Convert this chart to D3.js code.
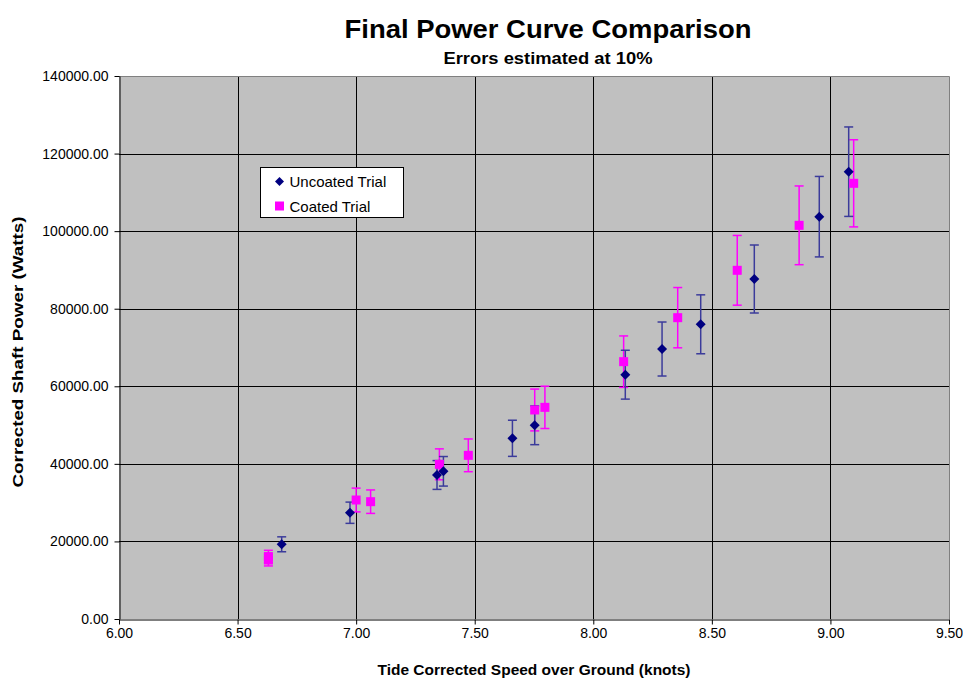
<!DOCTYPE html>
<html><head><meta charset="utf-8">
<script src="https://cdnjs.cloudflare.com/ajax/libs/d3/7.8.5/d3.min.js"></script>
<style>body{margin:0;background:#fff;}svg{display:block;font-family:"Liberation Sans",Arial,sans-serif;}</style>
</head><body>
<svg id="chart" width="963" height="679"></svg>
<script>
const uncoatedSpeed = [6.686, 6.974, 7.341, 7.368, 7.659, 7.753, 8.135, 8.290, 8.453, 8.679, 8.953, 9.077];
const uncoatedPower = [19260, 27400, 37130, 38080, 46590, 49940, 62990, 69610, 75980, 87660, 103730, 115330];
const coatedSpeed = [6.630, 6.630, 7.000, 7.061, 7.351, 7.473, 7.753, 7.796, 8.128, 8.356, 8.607, 8.868, 9.098];
const coatedPower = [16100, 15200, 30680, 30250, 39880, 42200, 53890, 54570, 66350, 77690, 89900, 101500, 112330];
const errorFraction = 0.10;
const xTicks = [6.0, 6.5, 7.0, 7.5, 8.0, 8.5, 9.0, 9.5];
const yTicks = [0, 20000, 40000, 60000, 80000, 100000, 120000, 140000];

const svg = d3.select("#chart");
const L = 119, R = 949, T = 76, B = 619;
const x = d3.scaleLinear().domain([6, 9.5]).range([L, R]);
const y = d3.scaleLinear().domain([0, 140000]).range([B, T]);

svg.append("rect").attr("x", L).attr("y", T).attr("width", R - L).attr("height", B - T).attr("fill", "#C0C0C0");

// gridlines
svg.append("g").selectAll("line").data(yTicks.slice(1, -1)).join("line")
  .attr("x1", L).attr("x2", R).attr("y1", d => Math.round(y(d)) + 0.5).attr("y2", d => Math.round(y(d)) + 0.5)
  .attr("stroke", "#000").attr("stroke-width", 1);
svg.append("g").selectAll("line").data(xTicks.slice(1, -1)).join("line")
  .attr("y1", T).attr("y2", B).attr("x1", d => Math.round(x(d)) + 0.5).attr("x2", d => Math.round(x(d)) + 0.5)
  .attr("stroke", "#000").attr("stroke-width", 1);

// border top/right
svg.append("path").attr("d", `M${L},${T + 0.5}H${R + 0.5}V${B}`).attr("fill", "none").attr("stroke", "#808080").attr("stroke-width", 1);

// axes
const xAxis = d3.axisBottom(x).tickValues(xTicks).tickFormat(d3.format(".2f")).tickSizeInner(5).tickSizeOuter(0).tickPadding(4);
const gx = svg.append("g").attr("transform", `translate(0,${B + 0.5})`).call(xAxis);
const yAxis = d3.axisLeft(y).tickValues(yTicks).tickFormat(d3.format(".2f")).tickSizeInner(5).tickSizeOuter(0).tickPadding(6);
const gy = svg.append("g").attr("transform", `translate(${L + 0.5},0)`).call(yAxis);
[gx, gy].forEach(g => {
  g.select(".domain").attr("stroke", "#000");
  g.selectAll(".tick line").attr("stroke", "#000");
  g.selectAll("text").attr("font-size", 14).attr("fill", "#000").attr("font-family", "Liberation Sans, Arial, sans-serif");
});

function errBars(sx, sp, color, cls) {
  const g = svg.append("g");
  const data = sx.map((s, i) => ({s, p: sp[i]}));
  g.selectAll("line.v" + cls).data(data).join("line")
    .attr("x1", d => x(d.s)).attr("x2", d => x(d.s))
    .attr("y1", d => y(d.p * (1 + errorFraction))).attr("y2", d => y(d.p * (1 - errorFraction)))
    .attr("stroke", color).attr("stroke-width", 1.5);
  ["top", "bot"].forEach(k => {
    g.selectAll("line." + k + cls).data(data).join("line")
      .attr("x1", d => x(d.s) - 4.5).attr("x2", d => x(d.s) + 4.5)
      .attr("y1", d => y(d.p * (k === "top" ? 1 + errorFraction : 1 - errorFraction)))
      .attr("y2", d => y(d.p * (k === "top" ? 1 + errorFraction : 1 - errorFraction)))
      .attr("stroke", color).attr("stroke-width", 1.5);
  });
  return data;
}

const cData = errBars(coatedSpeed, coatedPower, "#FF00FF", "c");
const uData = errBars(uncoatedSpeed, uncoatedPower, "#3B3B9B", "u");

svg.append("g").selectAll("rect").data(cData).join("rect")
  .attr("x", d => x(d.s) - 4.5).attr("y", d => y(d.p) - 4.5).attr("width", 9).attr("height", 9)
  .attr("fill", "#FF00FF");
const diamond = "M0,-5L5,0L0,5L-5,0Z";
svg.append("g").selectAll("path").data(uData).join("path")
  .attr("d", diamond).attr("transform", d => `translate(${x(d.s)},${y(d.p)})`)
  .attr("fill", "#000080");

// legend
const lg = svg.append("g").attr("transform", "translate(260.5,167.5)");
lg.append("rect").attr("width", 143).attr("height", 50).attr("fill", "#fff").attr("stroke", "#000");
lg.append("path").attr("d", "M0,-4.5L4.5,0L0,4.5L-4.5,0Z").attr("transform", "translate(19,14)").attr("fill", "#000080");
lg.append("rect").attr("x", 14.5).attr("y", 34).attr("width", 9).attr("height", 9).attr("fill", "#FF00FF");
lg.append("text").attr("x", 29).attr("y", 19).attr("font-size", 15).text("Uncoated Trial");
lg.append("text").attr("x", 29).attr("y", 44).attr("font-size", 15).text("Coated Trial");

// titles
svg.append("text").attr("x", 548).attr("y", 38).attr("text-anchor", "middle").attr("font-size", 25).attr("font-weight", "bold")
  .attr("textLength", 407).attr("lengthAdjust", "spacingAndGlyphs").text("Final Power Curve Comparison");
svg.append("text").attr("x", 548).attr("y", 64).attr("text-anchor", "middle").attr("font-size", 16).attr("font-weight", "bold")
  .attr("textLength", 209).attr("lengthAdjust", "spacingAndGlyphs").text("Errors estimated at 10%");
svg.append("text").attr("x", 534).attr("y", 675).attr("text-anchor", "middle").attr("font-size", 15).attr("font-weight", "bold")
  .attr("textLength", 313).attr("lengthAdjust", "spacingAndGlyphs").text("Tide Corrected Speed over Ground (knots)");
svg.append("text").attr("transform", "translate(23,352) rotate(-90)").attr("text-anchor", "middle").attr("font-size", 15).attr("font-weight", "bold")
  .attr("textLength", 271).attr("lengthAdjust", "spacingAndGlyphs").text("Corrected Shaft Power (Watts)");
</script>
</body></html>
